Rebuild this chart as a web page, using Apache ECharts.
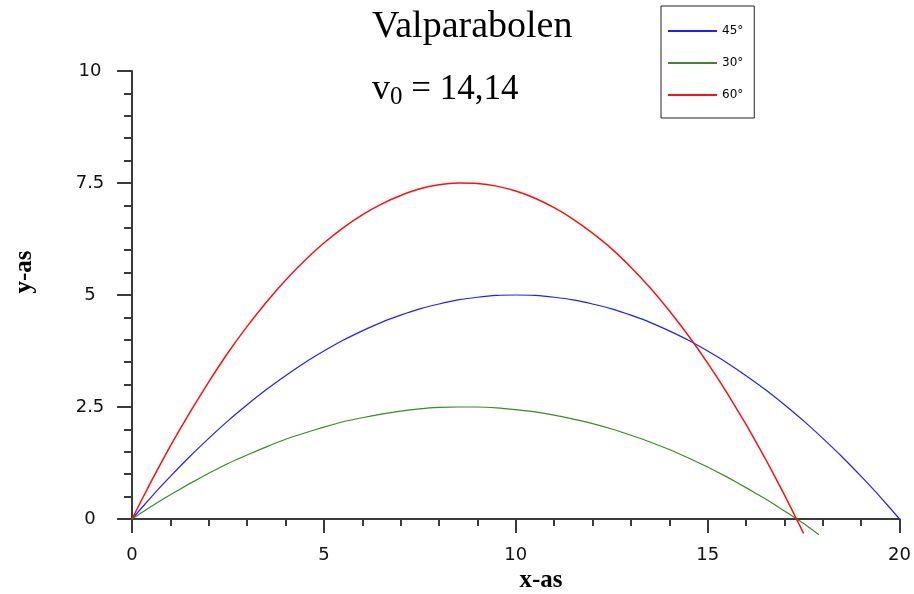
<!DOCTYPE html>
<html>
<head>
<meta charset="utf-8">
<script src="https://cdn.jsdelivr.net/npm/echarts@6/dist/echarts.min.js"></script>
<style>
  html, body { margin: 0; padding: 0; background: #fff; }
  #chart { width: 914px; height: 594px; }
</style>
</head>
<body>
<div id="chart"></div>
<script>
// ---- data ----
const seriesNames = ['45°', '30°', '60°'];

const x45 = [0, 0.5, 1, 1.5, 2, 2.5, 3, 3.5, 4, 4.5, 5, 5.5, 6, 6.5, 7, 7.5, 8, 8.5, 9, 9.5, 10,
             10.5, 11, 11.5, 12, 12.5, 13, 13.5, 14, 14.5, 15, 15.5, 16, 16.5, 17, 17.5, 18, 18.5, 19, 19.5, 20];
const y45 = [0, 0.49, 0.95, 1.39, 1.8, 2.19, 2.55, 2.89, 3.2, 3.49, 3.75, 3.99, 4.2, 4.39, 4.55, 4.69, 4.8, 4.89, 4.95, 4.99, 5,
             4.99, 4.95, 4.89, 4.8, 4.69, 4.55, 4.39, 4.2, 3.99, 3.75, 3.49, 3.2, 2.89, 2.55, 2.19, 1.8, 1.39, 0.95, 0.49, 0];

const x30 = [0, 0.5, 1, 1.5, 2, 2.5, 3, 3.5, 4, 4.5, 5, 5.5, 6, 6.5, 7, 7.5, 8, 8.5, 9, 9.5, 10,
             10.5, 11, 11.5, 12, 12.5, 13, 13.5, 14, 14.5, 15, 15.5, 16, 16.5, 17, 17.5, 17.9];
const y30 = [0, 0.28, 0.54, 0.79, 1.02, 1.24, 1.43, 1.61, 1.78, 1.92, 2.05, 2.17, 2.26, 2.34, 2.41, 2.46, 2.49, 2.5, 2.5, 2.48, 2.44,
             2.39, 2.32, 2.23, 2.13, 2.01, 1.87, 1.72, 1.55, 1.36, 1.16, 0.94, 0.7, 0.45, 0.18, -0.1, -0.35];

const x60 = [0, 0.5, 1, 1.5, 2, 2.5, 3, 3.5, 4, 4.5, 5, 5.5, 6, 6.5, 7, 7.5, 8, 8.5, 9, 9.5, 10,
             10.5, 11, 11.5, 12, 12.5, 13, 13.5, 14, 14.5, 15, 15.5, 16, 16.5, 17, 17.5];
const y60 = [0, 0.84, 1.63, 2.37, 3.06, 3.71, 4.3, 4.84, 5.33, 5.77, 6.16, 6.5, 6.79, 7.03, 7.22, 7.37, 7.46, 7.5, 7.49, 7.43, 7.32,
             7.16, 6.95, 6.69, 6.38, 6.03, 5.62, 5.16, 4.65, 4.09, 3.48, 2.82, 2.11, 1.35, 0.54, -0.32];

const titleText = 'Valparabolen';
const subV = 'v';
const subIndex = '0';
const subRest = ' = 14,14';
const xName = 'x-as';
const yName = 'y-as';

function zip(xs, ys) { return xs.map((x, i) => [x, ys[i]]); }

const chart = echarts.init(document.getElementById('chart'), null, { renderer: 'canvas' });

const axisColor = '#3a3a3a';
const tickFont = { fontFamily: 'DejaVu Sans', fontSize: 18, color: '#111' };

chart.setOption({
  animation: false,
  backgroundColor: '#ffffff',
  title: [
    {
      text: titleText,
      left: 372, top: 8,
      textStyle: { fontFamily: 'Liberation Serif', fontSize: 38, fontWeight: 'normal', color: '#000', lineHeight: 38 },
      padding: 0
    },
    {
      text: '{v|' + subV + '}{s|' + subIndex + '}{n|' + subRest + '}',
      left: 372, top: 70,
      padding: 0,
      textStyle: {
        fontWeight: 'normal',
        rich: {
          v: { fontFamily: 'Liberation Serif', fontSize: 36, fontWeight: 'normal', color: '#000', lineHeight: 40, verticalAlign: 'middle' },
          s: { fontFamily: 'Liberation Serif', fontSize: 25, fontWeight: 'normal', color: '#000', lineHeight: 25, verticalAlign: 'bottom' },
          n: { fontFamily: 'Liberation Serif', fontSize: 35, fontWeight: 'normal', color: '#000', lineHeight: 40, verticalAlign: 'middle' }
        }
      }
    }
  ],
  legend: {
    orient: 'vertical',
    left: 661, top: 6,
    padding: [18, 11, 16, 7],
    itemGap: 18,
    itemWidth: 49,
    itemHeight: 2,
    icon: 'rect',
    borderColor: '#222',
    borderWidth: 1,
    data: seriesNames,
    textStyle: { fontFamily: 'DejaVu Sans', fontSize: 12, color: '#000', lineHeight: 14 }
  },
  grid: { left: 132, right: 14, top: 71, bottom: 75, containLabel: false },
  xAxis: {
    type: 'value',
    min: 0, max: 20, interval: 5,
    axisLine: { show: true, onZero: false, lineStyle: { color: axisColor, width: 2 } },
    axisTick: { show: true, inside: false, length: 14, lineStyle: { color: axisColor, width: 2 } },
    minorTick: { show: true, splitNumber: 5, length: 7, lineStyle: { color: axisColor, width: 2 } },
    splitLine: { show: false },
    minorSplitLine: { show: false },
    axisLabel: Object.assign({ margin: 27 }, tickFont)
  },
  yAxis: {
    type: 'value',
    min: 0, max: 10, interval: 2.5,
    axisLine: { show: true, onZero: false, lineStyle: { color: axisColor, width: 2 } },
    axisTick: { show: true, inside: false, length: 15, lineStyle: { color: axisColor, width: 2 } },
    minorTick: { show: true, splitNumber: 5, length: 8, lineStyle: { color: axisColor, width: 2 } },
    splitLine: { show: false },
    minorSplitLine: { show: false },
    axisLabel: Object.assign({ margin: 42, align: 'center' }, tickFont)
  },
  graphic: [
    {
      type: 'text',
      x: 541, y: 581,
      style: { text: xName, font: 'bold 25px "Liberation Serif"', fill: '#000', align: 'center', verticalAlign: 'middle' }
    },
    {
      type: 'text',
      x: 25, y: 272,
      rotation: Math.PI / 2,
      style: { text: yName, font: 'bold 25px "Liberation Serif"', fill: '#000', align: 'center', verticalAlign: 'middle' }
    }
  ],
  series: [
    {
      name: seriesNames[0], type: 'line', data: zip(x45, y45),
      smooth: 0.15, symbol: 'none', clip: false,
      lineStyle: { color: '#1f1fff', width: 1.2 }, itemStyle: { color: '#1f1fff' }
    },
    {
      name: seriesNames[1], type: 'line', data: zip(x30, y30),
      smooth: 0.15, symbol: 'none', clip: false,
      lineStyle: { color: '#3b8a26', width: 1.2 }, itemStyle: { color: '#3b8a26' }
    },
    {
      name: seriesNames[2], type: 'line', data: zip(x60, y60),
      smooth: 0.15, symbol: 'none', clip: false,
      lineStyle: { color: '#ff1010', width: 1.5 }, itemStyle: { color: '#ff1010' }
    }
  ]
});
</script>
</body>
</html>
